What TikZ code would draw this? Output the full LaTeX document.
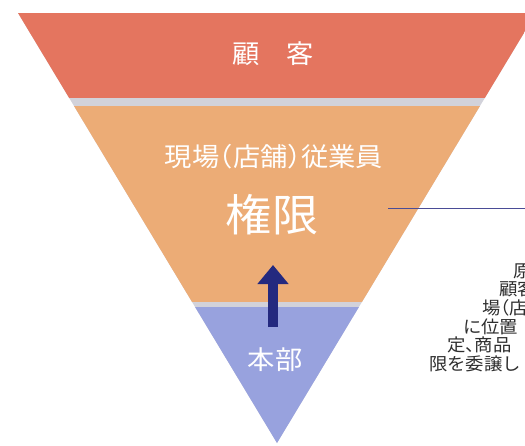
\documentclass[tikz,border=0pt]{standalone}
\usepackage{fontspec}
\usetikzlibrary{arrows.meta}
\newfontfamily\jp[RawFeature=+halt]{Noto Sans CJK JP}
\definecolor{bandred}{HTML}{E4755F}
\definecolor{bandorange}{HTML}{ECAC76}
\definecolor{bandblue}{HTML}{98A2DE}
\definecolor{gapgray}{HTML}{D2D2DA}
\definecolor{navy}{HTML}{24297F}
\definecolor{linenavy}{HTML}{4A4C96}
\definecolor{txtgray}{HTML}{2E2E2E}
\begin{document}
\begin{tikzpicture}[x=1pt,y=-1pt,
  whitelabel/.style={text=white,inner sep=0pt,xscale=1.05},
  bodyline/.style={text=txtgray,inner sep=0pt,anchor=west,xscale=1.05,font=\jp\fontsize{17.5}{17.5}\selectfont}]
\useasboundingbox (0,0) rectangle (525,445);
\clip (0,0) rectangle (525,445);
% pyramid
\coordinate (tl) at (18,13);
\coordinate (tr) at (536,13);
\coordinate (apex) at (277,443);
\fill[gapgray] (tl) -- (tr) -- (apex) -- cycle;
\begin{scope}
  \clip (tl) -- (tr) -- (apex) -- cycle;
  \fill[bandred] (0,13) rectangle (540,98);
  \fill[bandorange] (0,106) rectangle (540,302);
  \fill[bandblue] (0,307) rectangle (540,445);
\end{scope}
% labels
\node[whitelabel,font=\jp\fontsize{26}{26}\selectfont] (customer) at (273,54) {顧　客};
\node[whitelabel,font=\jp\fontsize{26}{26}\selectfont] (staff) at (274,157) {現場（店舗）従業員};
\node[whitelabel,font=\jp\fontsize{44}{44}\selectfont] (kengen) at (272,215) {権限};
\node[whitelabel,font=\jp\fontsize{26}{26}\selectfont] (honbu) at (275,360) {本部};
% arrow
\coordinate (arrbase) at (273,327);
\coordinate (arrtip) at (273,265);
\draw[navy,line width=10pt,-{Triangle[width=30pt,length=19pt]}] (arrbase) -- (arrtip);
% leader line
\coordinate (lineA) at (388,208);
\coordinate (lineB) at (530,208);
\draw[linenavy,line width=0.9pt] (lineA) -- (lineB);
% body text (clipped at right edge, as in the reference)
\node[bodyline] (t1) at (513,271) {原則};
\node[bodyline] (t2) at (499,289) {顧客};
\node[bodyline] (t3) at (482,308) {場（店舗};
\node[bodyline] (t4) at (463,327) {に位置};
\node[bodyline] (t5) at (447,345) {定、商品};
\node[bodyline] (t6) at (429,364) {限を委譲し};
\end{tikzpicture}
\end{document}
